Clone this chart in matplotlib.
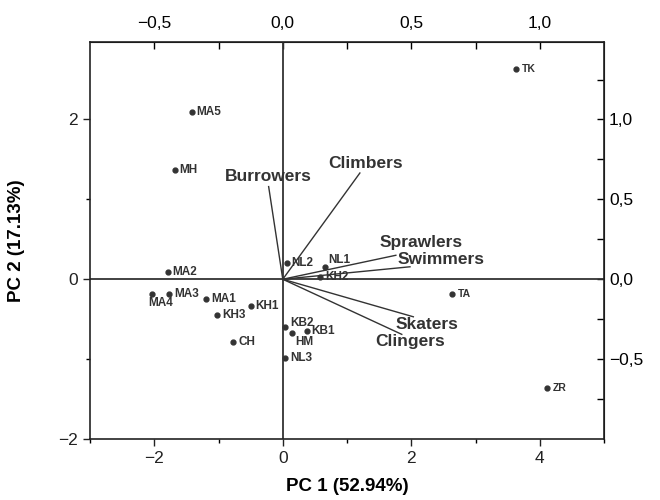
import numpy as np
import matplotlib.pyplot as plt
from matplotlib.ticker import MultipleLocator, FixedLocator, FuncFormatter

plt.rcParams['font.family'] = ['Liberation Sans', 'DejaVu Sans']

# site scores (PC1, PC2)
sites = ['TK', 'MA5', 'MH', 'MA2', 'MA4', 'MA3', 'MA1', 'KH1', 'KH3', 'CH',
         'KB2', 'HM', 'KB1', 'NL3', 'NL2', 'NL1', 'KH2', 'TA', 'ZR']
pc1 = [3.63, -1.42, -1.68, -1.79, -2.04, -1.77, -1.19, -0.50, -1.02, -0.77,
       0.04, 0.15, 0.37, 0.04, 0.06, 0.66, 0.58, 2.64, 4.12]
pc2 = [2.63, 2.09, 1.37, 0.09, -0.18, -0.18, -0.25, -0.33, -0.45, -0.79,
       -0.60, -0.67, -0.65, -0.98, 0.20, 0.15, 0.03, -0.19, -1.36]

# trait loadings (top / right axes)
traits = ['Burrowers', 'Climbers', 'Sprawlers', 'Swimmers', 'Skaters', 'Clingers']
load1 = [-0.055, 0.30, 0.44, 0.495, 0.508, 0.463]
load2 = [0.58, 0.665, 0.15, 0.078, -0.235, -0.345]

# axis scale between scores and loadings
kx, ky = 4.0, 2.0

col = '#333333'
fig = plt.figure(figsize=(6.6, 5.0), dpi=100)
ax = fig.add_axes([0.1364, 0.122, 0.7788, 0.794])

ax.set_xlim(-3, 5)
ax.set_ylim(-2, 2.97)
ax.axhline(0, color=col, lw=1.3, zorder=1)
ax.axvline(0, color=col, lw=1.3, zorder=1)

ax.plot(pc1, pc2, 'o', color=col, ms=3.5, zorder=3)

# label offsets in points (default: right of dot)
offs = {'MA4': (6.5, -7, 'center'), 'HM': (8.5, -6.5, 'center'),
        'NL1': (2, 5, 'left'), 'KB2': (3.5, 3, 'left'), 'TK': (4, 0, 'left'),
        'TA': (4, 0, 'left'), 'ZR': (4, 0, 'left')}
for s, x, y in zip(sites, pc1, pc2):
    dx, dy, ha = offs.get(s, (3.5, 0, 'left'))
    fs = 7.5 if s in ('TK', 'TA', 'ZR') else 8.5
    ax.annotate(s, (x, y), xytext=(dx, dy), textcoords='offset points',
                ha=ha, va='center', fontsize=fs, fontweight='bold', color=col)

toffs = [(0, 7), (4.3, 7), (18, 9.4), (22.7, 5.3), (9.9, -5.3), (6.3, -5.5)]
for t, lx, ly, (dx, dy) in zip(traits, load1, load2, toffs):
    ax.plot([0, lx * kx], [0, ly * ky], color=col, lw=1.0, zorder=2)
    ax.annotate(t, (lx * kx, ly * ky), xytext=(dx, dy), textcoords='offset points',
                ha='center', va='center', fontsize=12.5, fontweight='bold', color=col)

ax.xaxis.set_major_locator(MultipleLocator(2))
ax.xaxis.set_minor_locator(MultipleLocator(1))
ax.yaxis.set_major_locator(MultipleLocator(2))
ax.yaxis.set_minor_locator(MultipleLocator(1))
ax.tick_params(which='major', direction='out', length=5, width=1, labelsize=12.5, colors='#222222')
ax.tick_params(which='minor', direction='out', length=3, width=1)
for sp in ax.spines.values():
    sp.set_linewidth(1.2)
    sp.set_color('#222222')

comma = FuncFormatter(lambda v, p: f"{v:.1f}".replace('.', ',').replace('-', '\u2212'))

top = ax.secondary_xaxis('top', functions=(lambda x: x / kx, lambda x: x * kx))
top.xaxis.set_major_locator(FixedLocator([-0.5, 0.0, 0.5, 1.0]))
top.xaxis.set_minor_locator(FixedLocator([-0.25, 0.25, 0.75]))
top.xaxis.set_major_formatter(comma)
top.tick_params(which='major', direction='in', length=5, width=1, labelsize=12.5, pad=8)
top.tick_params(which='minor', direction='in', length=5, width=1)

right = ax.secondary_yaxis('right', functions=(lambda y: y / ky, lambda y: y * ky))
right.yaxis.set_major_locator(FixedLocator([-0.5, 0.0, 0.5, 1.0]))
right.yaxis.set_minor_locator(FixedLocator([-0.75, -0.25, 0.25, 0.75, 1.25]))
right.yaxis.set_major_formatter(comma)
right.tick_params(which='major', direction='in', length=5, width=1, labelsize=12.5)
right.tick_params(which='minor', direction='in', length=5, width=1)

ax.set_xlabel('PC 1 (52.94%)', fontsize=13.5, fontweight='bold', labelpad=9)
ax.set_ylabel('PC 2 (17.13%)', fontsize=13.5, fontweight='bold', labelpad=24)

fig.savefig('out.png', dpi=100)
